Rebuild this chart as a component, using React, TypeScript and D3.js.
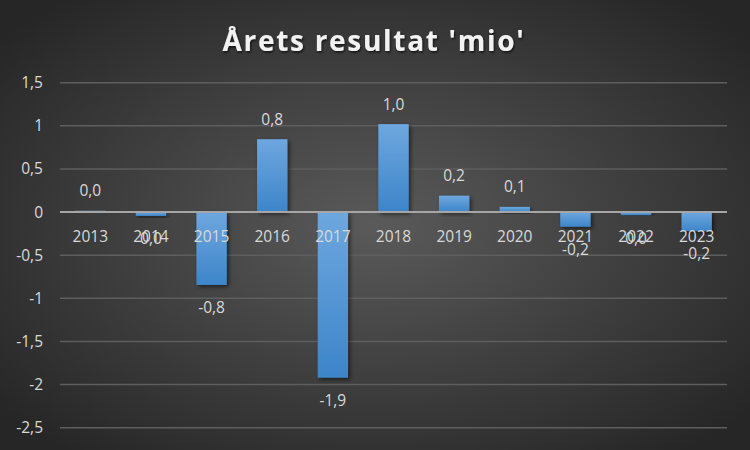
import React from "react";
import * as d3 from "d3";

const years = ["2013","2014","2015","2016","2017","2018","2019","2020","2021","2022","2023"];
const values = [0.015,-0.045,-0.845,0.845,-1.92,1.02,0.19,0.06,-0.17,-0.035,-0.22];
const yTicks = [1.5,1,0.5,0,-0.5,-1,-1.5,-2,-2.5];
const title = "Årets resultat 'mio'";

const W = 750, H = 450;
const M = { left: 60, right: 23, top: 82.7, bottom: 22.3 };

const fmtTick = (v: number) => String(v).replace(".", ",");
const fmtLabel = (v: number) => {
  const s = (Math.round(v * 10) / 10).toFixed(1);
  return (s === "-0.0" ? "0.0" : s).replace(".", ",");
};

export default function App() {
  const x = d3.scaleBand<string>().domain(years).range([M.left, W - M.right]).paddingInner(0.5).paddingOuter(0.25);
  const y = d3.scaleLinear().domain([-2.5, 1.5]).range([H - M.bottom, M.top]);
  const font = "'Open Sans', 'DejaVu Sans', sans-serif";
  return (
    <svg width={W} height={H} style={{ display: "block", position: "absolute", left: 0, top: 0 }}>
      <defs>
        <radialGradient id="bg" cx="50%" cy="50%" r="65%">
          <stop offset="0%" stopColor="#5a5a5a" />
          <stop offset="100%" stopColor="#262626" />
        </radialGradient>
        <linearGradient id="bar" x1="0" y1="0" x2="0" y2="1">
          <stop offset="0%" stopColor="#6ea7df" />
          <stop offset="100%" stopColor="#3d85c9" />
        </linearGradient>
        <filter id="sh" x="-30%" y="-30%" width="160%" height="160%">
          <feDropShadow dx="2" dy="2" stdDeviation="2" floodColor="#000" floodOpacity="0.55" />
        </filter>
        <filter id="tsh" x="-10%" y="-30%" width="120%" height="160%">
          <feDropShadow dx="1" dy="1.5" stdDeviation="1.2" floodColor="#000" floodOpacity="0.7" />
        </filter>
      </defs>
      <rect width={W} height={H} fill="url(#bg)" />
      <text x={W / 2 - 1} y={51} textAnchor="middle" fill="#f2f2f2" fontFamily={font} fontWeight={700}
        fontSize={28} letterSpacing={1.7} filter="url(#tsh)">{title}</text>
      {yTicks.map(t => (
        <g key={t}>
          {t !== 0 && <line x1={M.left} x2={W - M.right} y1={y(t)} y2={y(t)} stroke="#5e5e5e" strokeWidth={1.5} />}
          <text x={43} y={y(t)} dy="0.35em" textAnchor="end" fill="#d9d9d9" fontFamily={font} fontSize={15.5}>{fmtTick(t)}</text>
        </g>
      ))}
      {years.map((yr, i) => {
        const v = values[i];
        const y0 = y(0), y1 = y(v);
        return (
          <rect key={yr} x={x(yr)} width={x.bandwidth()} y={Math.min(y0, y1)} height={Math.max(1, Math.abs(y1 - y0))}
            fill="url(#bar)" filter="url(#sh)" />
        );
      })}
      <line x1={M.left} x2={W - M.right} y1={y(0)} y2={y(0)} stroke="#a6a6a6" strokeWidth={2} />
      {years.map(yr => (
        <text key={yr} x={(x(yr) as number) + x.bandwidth() / 2} y={y(0) + 24} dy="0.35em" textAnchor="middle"
          fill="#d9d9d9" fontFamily={font} fontSize={15.5}>{yr}</text>
      ))}
      {years.map((yr, i) => {
        const v = values[i];
        const yy = v >= 0 ? y(v) - 20 : y(v) + 23;
        return (
          <text key={"l" + yr} x={(x(yr) as number) + x.bandwidth() / 2} y={yy} dy="0.35em" textAnchor="middle"
            fill="#d9d9d9" fontFamily={font} fontSize={15.5}>{fmtLabel(v)}</text>
        );
      })}
    </svg>
  );
}
